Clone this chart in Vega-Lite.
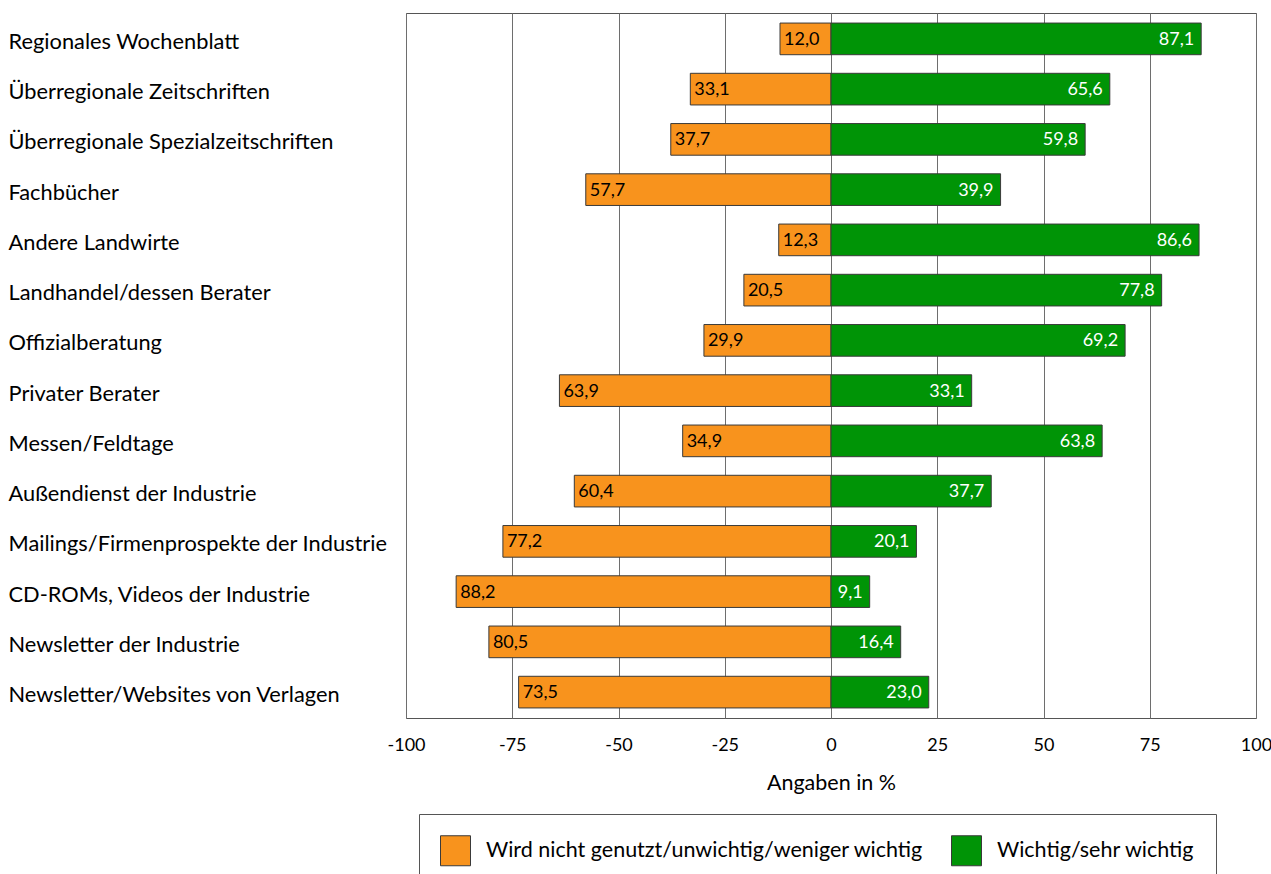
{
  "$schema": "https://vega.github.io/schema/vega-lite/v6.json",
  "autosize": {"type": "none"},
  "width": 850,
  "height": 705,
  "padding": {"left": 406, "top": 13, "right": 15, "bottom": 156},
  "background": "white",
  "config": {
    "locale": {
      "number": {"decimal": ",", "thousands": ".", "grouping": [3], "currency": ["", " €"], "minus": "-"}
    },
    "font": "Lato",
    "view": {"stroke": "#555555", "strokeWidth": 1},
    "text": {"font": "Lato", "fontSize": 18}
  },
  "data": {
    "values": [
      {"quelle": "Regionales Wochenblatt", "gruppe": "Wird nicht genutzt/unwichtig/weniger wichtig", "wert": 12.0},
      {"quelle": "Regionales Wochenblatt", "gruppe": "Wichtig/sehr wichtig", "wert": 87.1},
      {"quelle": "Überregionale Zeitschriften", "gruppe": "Wird nicht genutzt/unwichtig/weniger wichtig", "wert": 33.1},
      {"quelle": "Überregionale Zeitschriften", "gruppe": "Wichtig/sehr wichtig", "wert": 65.6},
      {"quelle": "Überregionale Spezialzeitschriften", "gruppe": "Wird nicht genutzt/unwichtig/weniger wichtig", "wert": 37.7},
      {"quelle": "Überregionale Spezialzeitschriften", "gruppe": "Wichtig/sehr wichtig", "wert": 59.8},
      {"quelle": "Fachbücher", "gruppe": "Wird nicht genutzt/unwichtig/weniger wichtig", "wert": 57.7},
      {"quelle": "Fachbücher", "gruppe": "Wichtig/sehr wichtig", "wert": 39.9},
      {"quelle": "Andere Landwirte", "gruppe": "Wird nicht genutzt/unwichtig/weniger wichtig", "wert": 12.3},
      {"quelle": "Andere Landwirte", "gruppe": "Wichtig/sehr wichtig", "wert": 86.6},
      {"quelle": "Landhandel/dessen Berater", "gruppe": "Wird nicht genutzt/unwichtig/weniger wichtig", "wert": 20.5},
      {"quelle": "Landhandel/dessen Berater", "gruppe": "Wichtig/sehr wichtig", "wert": 77.8},
      {"quelle": "Offizialberatung", "gruppe": "Wird nicht genutzt/unwichtig/weniger wichtig", "wert": 29.9},
      {"quelle": "Offizialberatung", "gruppe": "Wichtig/sehr wichtig", "wert": 69.2},
      {"quelle": "Privater Berater", "gruppe": "Wird nicht genutzt/unwichtig/weniger wichtig", "wert": 63.9},
      {"quelle": "Privater Berater", "gruppe": "Wichtig/sehr wichtig", "wert": 33.1},
      {"quelle": "Messen/Feldtage", "gruppe": "Wird nicht genutzt/unwichtig/weniger wichtig", "wert": 34.9},
      {"quelle": "Messen/Feldtage", "gruppe": "Wichtig/sehr wichtig", "wert": 63.8},
      {"quelle": "Außendienst der Industrie", "gruppe": "Wird nicht genutzt/unwichtig/weniger wichtig", "wert": 60.4},
      {"quelle": "Außendienst der Industrie", "gruppe": "Wichtig/sehr wichtig", "wert": 37.7},
      {"quelle": "Mailings/Firmenprospekte der Industrie", "gruppe": "Wird nicht genutzt/unwichtig/weniger wichtig", "wert": 77.2},
      {"quelle": "Mailings/Firmenprospekte der Industrie", "gruppe": "Wichtig/sehr wichtig", "wert": 20.1},
      {"quelle": "CD-ROMs, Videos der Industrie", "gruppe": "Wird nicht genutzt/unwichtig/weniger wichtig", "wert": 88.2},
      {"quelle": "CD-ROMs, Videos der Industrie", "gruppe": "Wichtig/sehr wichtig", "wert": 9.1},
      {"quelle": "Newsletter der Industrie", "gruppe": "Wird nicht genutzt/unwichtig/weniger wichtig", "wert": 80.5},
      {"quelle": "Newsletter der Industrie", "gruppe": "Wichtig/sehr wichtig", "wert": 16.4},
      {"quelle": "Newsletter/Websites von Verlagen", "gruppe": "Wird nicht genutzt/unwichtig/weniger wichtig", "wert": 73.5},
      {"quelle": "Newsletter/Websites von Verlagen", "gruppe": "Wichtig/sehr wichtig", "wert": 23.0}
    ]
  },
  "transform": [
    {"calculate": "datum.gruppe === 'Wichtig/sehr wichtig' ? datum.wert : -datum.wert", "as": "position"}
  ],
  "encoding": {
    "y": {
      "field": "quelle",
      "type": "nominal",
      "sort": null,
      "scale": {"paddingInner": 0.37, "paddingOuter": 0.2},
      "axis": {
        "title": null,
        "domain": false,
        "ticks": false,
        "labelAlign": "left",
        "labelPadding": 398,
        "labelOffset": 3,
        "labelLimit": 0,
        "labelFont": "Lato",
        "labelFontSize": 21.8,
        "labelColor": "#000000"
      }
    }
  },
  "layer": [
    {
      "mark": {"type": "bar", "stroke": "#3a3a3a", "strokeWidth": 1},
      "encoding": {
        "x": {
          "field": "position",
          "type": "quantitative",
          "scale": {"domain": [-100, 100], "nice": false},
          "axis": {
            "values": [-100, -75, -50, -25, 0, 25, 50, 75, 100],
            "format": "d",
            "grid": true,
            "gridColor": "#6e6e6e",
            "gridWidth": 1,
            "domain": false,
            "ticks": false,
            "tickSize": 0,
            "labelFlush": false,
            "labelPadding": 18,
            "labelFont": "Lato",
            "labelFontSize": 18,
            "labelColor": "#000000",
            "title": "Angaben in %",
            "titleFont": "Lato",
            "titleFontSize": 21.5,
            "titleFontWeight": "normal",
            "titleColor": "#000000",
            "titlePadding": 18
          }
        },
        "color": {
          "field": "gruppe",
          "type": "nominal",
          "scale": {
            "domain": ["Wird nicht genutzt/unwichtig/weniger wichtig", "Wichtig/sehr wichtig"],
            "range": ["#F8931D", "#009406"]
          },
          "legend": {
            "title": null,
            "orient": "none",
            "direction": "horizontal",
            "legendX": 13,
            "legendY": 801,
            "padding": 21,
            "strokeColor": "#555555",
            "fillColor": "#ffffff",
            "symbolType": "square",
            "symbolSize": 900,
            "symbolStrokeColor": "#3a3a3a",
            "symbolStrokeWidth": 1,
            "symbolOpacity": 1,
            "labelFont": "Lato",
            "labelFontSize": 21.5,
            "labelColor": "#000000",
            "labelOffset": 15,
            "labelLimit": 0,
            "columnPadding": 25
          }
        }
      }
    },
    {
      "transform": [{"filter": "datum.gruppe !== 'Wichtig/sehr wichtig'"}],
      "mark": {"type": "text", "align": "left", "baseline": "middle", "dx": 4, "dy": 1, "color": "#000000", "fontSize": 18},
      "encoding": {
        "x": {"field": "position", "type": "quantitative"},
        "text": {"field": "wert", "type": "quantitative", "format": ".1f"}
      }
    },
    {
      "transform": [{"filter": "datum.gruppe === 'Wichtig/sehr wichtig'"}],
      "mark": {"type": "text", "align": "right", "baseline": "middle", "dx": -7, "dy": 1, "color": "#ffffff", "fontSize": 18},
      "encoding": {
        "x": {"field": "position", "type": "quantitative"},
        "text": {"field": "wert", "type": "quantitative", "format": ".1f"}
      }
    }
  ]
}
